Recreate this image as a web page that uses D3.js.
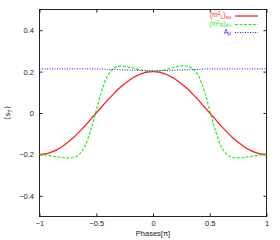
<!DOCTYPE html>
<html><head><meta charset="utf-8">
<script src="https://cdn.jsdelivr.net/npm/d3@7"></script>
<style>body{margin:0;background:#fff}svg{display:block}text{font-family:"Liberation Sans",Arial,sans-serif}</style>
</head><body>
<script>
const phases = [-1,-0.95,-0.9,-0.85,-0.8,-0.75,-0.7,-0.65,-0.6,-0.55,-0.5,-0.45,-0.4,-0.35,-0.3,-0.25,-0.2,-0.15,-0.1,-0.05,0,0.05,0.1,0.15,0.2,0.25,0.3,0.35,0.4,0.45,0.5,0.55,0.6,0.65,0.7,0.75,0.8,0.85,0.9,0.95,1];
const mL = [-0.200,-0.198,-0.190,-0.178,-0.162,-0.141,-0.118,-0.091,-0.062,-0.031,0.000,0.031,0.062,0.091,0.118,0.141,0.162,0.178,0.190,0.198,0.200,0.198,0.190,0.178,0.162,0.141,0.118,0.091,0.062,0.031,0.000,-0.031,-0.062,-0.091,-0.118,-0.141,-0.162,-0.178,-0.190,-0.198,-0.200];
const mR = [-0.201,-0.203,-0.207,-0.211,-0.215,-0.217,-0.215,-0.200,-0.160,-0.085,0.012,0.110,0.180,0.214,0.225,0.225,0.220,0.213,0.207,0.204,0.203,0.204,0.208,0.215,0.223,0.228,0.226,0.214,0.180,0.110,0.012,-0.085,-0.160,-0.200,-0.215,-0.217,-0.215,-0.211,-0.207,-0.203,-0.201];
const Amu = [0.213,0.213,0.213,0.213,0.213,0.213,0.213,0.213,0.213,0.213,0.213,0.212,0.211,0.210,0.209,0.208,0.207,0.206,0.205,0.204,0.204,0.204,0.205,0.206,0.207,0.208,0.209,0.210,0.211,0.212,0.213,0.213,0.213,0.213,0.213,0.213,0.213,0.213,0.213,0.213,0.213];
const xTicks = [-1,-0.5,0,0.5,1];
const yTicks = [-0.4,-0.2,0,0.2,0.4];

const W=280,H=240;
const svg=d3.select("body").append("svg").attr("width",W).attr("height",H);
const x=d3.scaleLinear().domain([-1,1]).range([39.5,266.5]);
const y=d3.scaleLinear().domain([-0.5,0.5]).range([216.5,9.5]);
const fs=7.5;

svg.append("rect").attr("x",39.5).attr("y",9.5).attr("width",227).attr("height",207)
  .attr("fill","none").attr("stroke","#222").attr("stroke-width",1);

function styleAxis(g){g.select(".domain").remove();g.selectAll("line").attr("stroke","#222");g.selectAll("text").attr("fill","#222").style("font-size",fs+"px").style("font-family","Liberation Sans, Arial, sans-serif");}
svg.append("g").attr("transform","translate(0,216.5)")
  .call(d3.axisBottom(x).tickValues(xTicks).tickSize(-3).tickPadding(4).tickFormat(d3.format("")))
  .call(styleAxis);
svg.append("g").attr("transform","translate(0,9.5)")
  .call(d3.axisTop(x).tickValues(xTicks).tickSize(-3).tickFormat(""))
  .call(styleAxis);
svg.append("g").attr("transform","translate(39.5,0)")
  .call(d3.axisLeft(y).tickValues(yTicks).tickSize(-3).tickPadding(5.5).tickFormat(d3.format("")))
  .call(styleAxis);
svg.append("g").attr("transform","translate(266.5,0)")
  .call(d3.axisRight(y).tickValues(yTicks).tickSize(-3).tickFormat(""))
  .call(styleAxis);

svg.append("text").attr("x",153).attr("y",236).attr("text-anchor","middle").style("font-size",fs+"px").attr("fill","#222").text("Phases[π]");
const yl=svg.append("text").attr("transform","translate(10,113) rotate(-90)").attr("text-anchor","middle").style("font-size",fs+"px").attr("fill","#222");
yl.append("tspan").text("⟨s");
yl.append("tspan").attr("dy",2).style("font-size","5.5px").text("T");
yl.append("tspan").attr("dy",-2).text("⟩");

const line=d3.line().x((d,i)=>x(phases[i])).y(d=>y(d)).curve(d3.curveCatmullRom);
const series=[
 {v:mL,c:"#ff2020",dash:null,w:1.3,lab:"L"},
 {v:mR,c:"#22ee22",dash:"3,1.5",w:1.2,lab:"R"},
 {v:Amu,c:"#1a1aee",dash:"1,1.5",w:1,lab:"A"}
];
series.forEach(s=>{
  svg.append("path").datum(s.v).attr("d",line).attr("fill","none").attr("stroke",s.c)
   .attr("stroke-width",s.w).attr("stroke-dasharray",s.dash);
});

const ly=[16,24.5,32.5];
const lfs=6.5, sfs=5;
series.forEach((s,i)=>{
  svg.append("line").attr("x1",235).attr("x2",258).attr("y1",ly[i]).attr("y2",ly[i])
    .attr("stroke",s.c).attr("stroke-width",s.w).attr("stroke-dasharray",s.dash);
  const t=svg.append("text").attr("x",231).attr("y",ly[i]+1).attr("text-anchor","end").attr("fill",s.c).style("font-size",lfs+"px");
  if(s.lab==="A"){
    t.append("tspan").text("A");
    t.append("tspan").attr("dy",1.5).style("font-size",sfs+"px").text("μ");
  } else {
    t.append("tspan").text("(m");
    t.append("tspan").attr("dy",-2).style("font-size",sfs+"px").text("2");
    t.append("tspan").attr("dy",3.5).style("font-size",sfs+"px").text(s.lab);
    t.append("tspan").attr("dy",-1.5).text(")");
    t.append("tspan").attr("dy",1.5).style("font-size",sfs+"px").text("eu");
  }
});
</script>
</body></html>
